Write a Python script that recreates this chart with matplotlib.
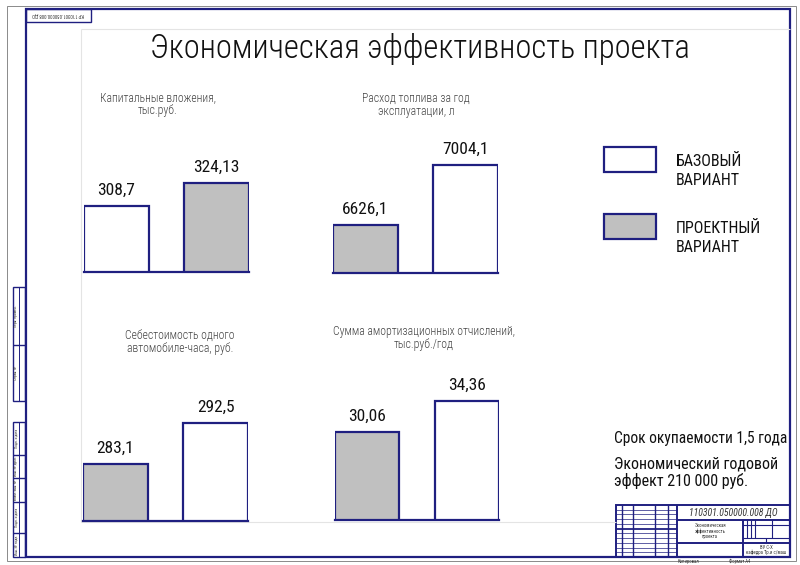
import matplotlib
matplotlib.use("Agg")
import matplotlib.pyplot as plt
from matplotlib.patches import Rectangle

plt.rcParams['font.family'] = ['Roboto Condensed', 'DejaVu Sans']

# data
main_title = "Экономическая эффективность проекта"
chart_titles = ["Капитальные вложения,\nтыс.руб.",
                "Расход топлива за год\nэксплуатации, л",
                "Себестоимость одного\nавтомобиле-часа, руб.",
                "Сумма амортизационных отчислений,\nтыс.руб./год"]
base_values = [308.7, 7004.1, 292.5, 34.36]
project_values = [324.13, 6626.1, 283.1, 30.06]
base_first = [True, False, False, False]
legend_labels = ["БАЗОВЫЙ\nВАРИАНТ", "ПРОЕКТНЫЙ\nВАРИАНТ"]
notes = ["Срок окупаемости 1,5 года", "Экономический годовой\nэффект 210 000 руб."]

navy = '#1f1f80'
grey_fill = '#c0c0c0'

# layout in pixels: left, right, baseline, top of taller bar
chart_px = [(84, 249, 272, 183), (333, 498, 273, 165),
            (83, 248, 521, 423), (335, 499, 520, 401)]
y_floor = [264.4, 6323.7, 270.0, 17.9]
title_px = [(158, 104), (416, 105), (180, 342), (424, 338)]
W, H = 800, 565
bw = 0.645

fig = plt.figure(figsize=(8, 5.65), dpi=100)
bg = fig.add_axes([0, 0, 1, 1])
bg.set_xlim(0, W)
bg.set_ylim(H, 0)
bg.axis('off')


def line(x0, y0, x1, y1, c=navy, lw=1.0):
    bg.plot([x0, x1], [y0, y1], color=c, lw=lw, solid_capstyle='butt')


def box(x, y, w, h, c=navy, lw=1.0, fc='none'):
    bg.add_patch(Rectangle((x, y), w, h, fill=(fc != 'none'), facecolor=fc, edgecolor=c, lw=lw))


# sheet frame
box(7, 6, 789, 555, c='#8a8a8a', lw=0.7)
box(26, 9, 764, 548, lw=1.6)
box(26, 9, 65, 13, lw=1.0)
bg.text(58, 15.5, "КР 110301.050000.008 ДО", fontsize=3.5, ha='center', va='center',
        rotation=180, color='#333')
# faint drawing area
line(81, 29, 790, 29, c='#e4e4e4', lw=0.8)
line(81, 29, 81, 522, c='#e4e4e4', lw=0.8)
line(81, 522, 616, 522, c='#e4e4e4', lw=0.8)

# left strips
box(13, 287, 12, 114, lw=1.0)
line(19, 287, 19, 401, lw=0.7)
line(13, 345, 25, 345, lw=1.0)
box(13, 422, 12, 135, lw=1.0)
line(19, 422, 19, 557, lw=0.7)
for yy in [455, 478, 502, 533]:
    line(13, yy, 25, yy, lw=1.0)
strip_txt = [(316, "Перв. примен."), (373, "Справ. №"), (438, "Подп. и дата"),
             (466, "Инв. № дубл."), (490, "Взам. инв. №"), (517, "Подп. и дата"),
             (545, "Инв. № подл.")]
for yy, t in strip_txt:
    bg.text(16, yy, t, fontsize=2.6, rotation=90, ha='center', va='center', color='#333')

# title block
box(616, 505, 174, 52, lw=1.4)
for xx in [622, 633, 655, 668, 677]:
    line(xx, 505, xx, 557, lw=1.0 if xx != 677 else 1.4)
for i in range(1, 11):
    yy = 505 + i * 52 / 11
    line(616, yy, 677, yy, lw=1.3 if i == 5 else 0.5)
line(677, 520, 790, 520, lw=1.4)
line(677, 543, 790, 543, lw=1.4)
line(743, 520, 743, 557, lw=1.4)
line(743, 525, 790, 525, lw=0.8)
line(743, 538, 790, 538, lw=0.8)
for xx in [747, 751, 755, 772]:
    line(xx, 520, xx, 538, lw=0.8)
line(766, 538, 766, 543, lw=0.8)
bg.text(733, 512.5, "110301.050000.008 ДО", fontsize=7, style='italic', ha='center',
        va='center', color='#333')
bg.text(710, 531, "Экономическая\nэффективность\nпроекта", fontsize=3.4, ha='center',
        va='center', color='#333', linespacing=1.0)
bg.text(766, 550, "ВУ С-Х\nкафедра Тр.и с/маш", fontsize=3.4, ha='center',
        va='center', color='#333', linespacing=1.0)
bg.text(688, 561, "Копировал", fontsize=3.4, ha='center', va='center', color='#333')
bg.text(740, 561, "Формат А4", fontsize=3.4, ha='center', va='center', color='#333')

# titles and notes
bg.text(420, 49, main_title, fontsize=23.5, ha='center', va='center', color='#111',
        fontweight='light')
for (tx, ty), t in zip(title_px, chart_titles):
    bg.text(tx, ty, t, fontsize=8.5, ha='center', va='center', color='#444',
            linespacing=1.0, fontweight='light')
bg.text(614, 439, notes[0], fontsize=11.2, ha='left', va='center', color='#111')
bg.text(614, 473, notes[1], fontsize=11.5, ha='left', va='center', color='#111',
        linespacing=1.1)

# legend
fills = {True: 'white', False: grey_fill}
for i, (lbl, is_base) in enumerate(zip(legend_labels, [True, False])):
    y0 = 147 + i * 67
    box(604, y0, 52, 25, lw=1.6, fc=fills[is_base])
    bg.text(676, y0 + 24, lbl, fontsize=11.5, ha='left', va='center', color='#111',
            linespacing=1.35)

# bar charts
for k in range(4):
    left, right, base_px, top_px = chart_px[k]
    if base_first[k]:
        vals = [base_values[k], project_values[k]]
        cols = ['white', grey_fill]
    else:
        vals = [project_values[k], base_values[k]]
        cols = [grey_fill, 'white']
    ax_top = top_px - 50
    ax = fig.add_axes([left / W, 1 - base_px / H, (right - left) / W, (base_px - ax_top) / H])
    ax.patch.set_visible(False)
    ax.bar([0, 1], vals, width=bw, color=cols, edgecolor=navy, linewidth=1.6)
    vmax = max(vals)
    ax.set_ylim(y_floor[k], y_floor[k] + (vmax - y_floor[k]) * (base_px - ax_top) / (base_px - top_px))
    ax.set_xlim(-bw / 2, 1 + bw / 2)
    for s in ['left', 'right', 'top']:
        ax.spines[s].set_visible(False)
    ax.spines['bottom'].set_color(navy)
    ax.spines['bottom'].set_linewidth(1.6)
    ax.set_xticks([])
    ax.set_yticks([])
    for x, v in zip([0, 1], vals):
        ax.annotate(str(v).replace('.', ','), (x, v), xytext=(0, 6), textcoords='offset points',
                    ha='center', va='bottom', fontsize=12.5, color='#111', annotation_clip=False)

fig.savefig('out.png', dpi=100)
